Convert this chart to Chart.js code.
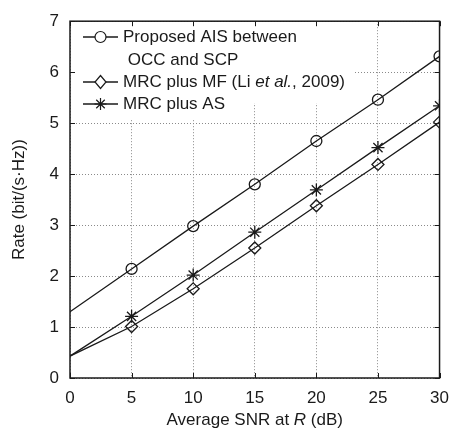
<!DOCTYPE html>
<html>
<head>
<meta charset="utf-8">
<script src="https://cdn.jsdelivr.net/npm/chart.js@4/dist/chart.umd.min.js"></script>
<style>
  html, body { margin: 0; padding: 0; background: #fff; }
  #wrap { width: 459px; height: 434px; }
</style>
</head>
<body>
<div id="wrap"><canvas id="rate" width="459" height="434"></canvas></div>
<script>
const snr = [0, 5, 10, 15, 20, 25, 30]
const proposedAis = [1.30, 2.14, 2.98, 3.80, 4.65, 5.46, 6.31]
const mrcMf = [0.43, 1.01, 1.75, 2.55, 3.38, 4.19, 5.02]
const mrcAs = [0.43, 1.21, 2.02, 2.86, 3.69, 4.52, 5.34]
const xTicks = [0, 5, 10, 15, 20, 25, 30]
const yTicks = [0, 1, 2, 3, 4, 5, 6, 7]

const ink = '#1a1a1a'
const font = '"Liberation Sans", Arial, sans-serif'
const size = 17

function series(values) {
    return snr.map((x, i) => ({ x: x, y: values[i] }))
}
// no marker on the first (0 dB) point
const noFirst = r => snr.map((x, i) => i === 0 ? 0 : r)

function marker(ctx, style, x, y) {
    ctx.save()
    ctx.strokeStyle = ink
    ctx.fillStyle = '#fff'
    ctx.lineWidth = 1.2
    ctx.beginPath()
    if (style === 'circle') {
        ctx.arc(x, y, 5.5, 0, Math.PI * 2)
        ctx.fill()
    } else if (style === 'rectRot') {
        ctx.moveTo(x, y - 6.5); ctx.lineTo(x + 5.5, y)
        ctx.lineTo(x, y + 6.5); ctx.lineTo(x - 5.5, y); ctx.closePath()
        ctx.fill()
    } else {
        for (let k = 0; k < 4; k++) {
            const a = k * Math.PI / 4
            ctx.moveTo(x - 6 * Math.cos(a), y - 6 * Math.sin(a))
            ctx.lineTo(x + 6 * Math.cos(a), y + 6 * Math.sin(a))
        }
    }
    ctx.stroke()
    ctx.restore()
}

// bits of text with their own font (for the italic parts)
function runs(ctx, parts, x, y) {
    parts.forEach(p => {
        ctx.font = (p.italic ? 'italic ' : '') + size + 'px ' + font
        ctx.fillText(p.text, x, y)
        x += ctx.measureText(p.text).width
    })
}

const legendRows = [
    { style: 'circle', y: 37, lines: [[{ text: 'Proposed AIS between' }], [{ text: ' OCC and SCP' }]] },
    { style: 'rectRot', y: 82, lines: [[{ text: 'MRC plus MF (Li ' }, { text: 'et al.', italic: true }, { text: ', 2009)' }]] },
    { style: 'star', y: 104, lines: [[{ text: 'MRC plus AS' }]] },
]

const frame = {
    id: 'frame',
    beforeDatasetsDraw(chart) {
        const ctx = chart.ctx
        const a = chart.chartArea
        // legend box hides the grid behind it
        ctx.save()
        ctx.fillStyle = '#fff'
        ctx.fillRect(a.left + 1, a.top + 1, 282, 81)
        ctx.fillRect(a.left + 1, a.top + 1, 162, 97)
        ctx.restore()
    },
    afterDraw(chart) {
        const ctx = chart.ctx
        const a = chart.chartArea
        const xs = chart.scales.x
        const ys = chart.scales.y
        ctx.save()
        ctx.strokeStyle = ink
        ctx.lineWidth = 1.5
        ctx.strokeRect(a.left, a.top, a.right - a.left, a.bottom - a.top)
        // inward ticks on all four sides
        ctx.lineWidth = 1
        ctx.beginPath()
        xTicks.forEach(v => {
            const px = Math.round(xs.getPixelForValue(v)) + 0.5
            ctx.moveTo(px, a.bottom); ctx.lineTo(px, a.bottom - 5)
            ctx.moveTo(px, a.top); ctx.lineTo(px, a.top + 5)
        })
        yTicks.forEach(v => {
            const py = Math.round(ys.getPixelForValue(v)) + 0.5
            ctx.moveTo(a.left, py); ctx.lineTo(a.left + 5, py)
            ctx.moveTo(a.right, py); ctx.lineTo(a.right - 5, py)
        })
        ctx.stroke()

        // legend
        ctx.fillStyle = ink
        ctx.textBaseline = 'middle'
        ctx.textAlign = 'left'
        legendRows.forEach(row => {
            ctx.strokeStyle = ink
            ctx.lineWidth = 1.3
            ctx.beginPath()
            ctx.moveTo(a.left + 13, row.y); ctx.lineTo(a.left + 48, row.y)
            ctx.stroke()
            marker(ctx, row.style, a.left + 30.5, row.y)
            row.lines.forEach((line, i) => runs(ctx, line, a.left + 53, row.y + i * 23))
        })

        // x axis title, with italic R
        const title = [{ text: 'Average SNR at ' }, { text: 'R', italic: true }, { text: ' (dB)' }]
        let w = 0
        title.forEach(p => {
            ctx.font = (p.italic ? 'italic ' : '') + size + 'px ' + font
            w += ctx.measureText(p.text).width
        })
        runs(ctx, title, (a.left + a.right) / 2 - w / 2, 420)
        ctx.restore()
    }
}

const line = (label, values, style, radius) => ({
    label: label,
    data: series(values),
    borderColor: ink,
    borderWidth: 1.3,
    backgroundColor: '#fff',
    pointStyle: style,
    pointRadius: noFirst(radius),
    pointBorderWidth: 1.3,
    pointBorderColor: ink,
    pointBackgroundColor: style === 'star' ? ink : 'rgba(255,255,255,0)',
    tension: 0,
    fill: false
})

new Chart(document.getElementById('rate'), {
    type: 'line',
    data: {
        datasets: [
            line('Proposed AIS between OCC and SCP', proposedAis, 'circle', 5.5),
            line('MRC plus MF (Li et al., 2009)', mrcMf, 'rectRot', 6),
            line('MRC plus AS', mrcAs, 'star', 6.5),
        ]
    },
    plugins: [frame],
    options: {
        responsive: false,
        animation: false,
        layout: { padding: { top: 15, right: 10, left: 0, bottom: 0 } },
        scales: {
            x: {
                type: 'linear',
                min: 0,
                max: 30,
                afterFit(scale) { scale.height = 56 },
                afterBuildTicks(scale) { scale.ticks = xTicks.map(v => ({ value: v })) },
                grid: { color: '#8a8a8a', lineWidth: 1, drawTicks: false },
                border: { display: false, dash: [1, 2] },
                ticks: { padding: 10, color: ink, font: { family: font, size: size } }
            },
            y: {
                type: 'linear',
                min: 0,
                max: 7,
                afterFit(scale) { scale.width = 70 },
                afterBuildTicks(scale) { scale.ticks = yTicks.map(v => ({ value: v })) },
                grid: { color: '#8a8a8a', lineWidth: 1, drawTicks: false },
                border: { display: false, dash: [1, 2] },
                ticks: { padding: 11, color: ink, font: { family: font, size: size } },
                title: {
                    display: true,
                    text: 'Rate (bit/(s·Hz))',
                    color: ink,
                    font: { family: font, size: size },
                    padding: { top: 9, bottom: 0 }
                }
            }
        },
        plugins: {
            legend: { display: false },
            tooltip: { enabled: false }
        }
    }
})
</script>
</body>
</html>
